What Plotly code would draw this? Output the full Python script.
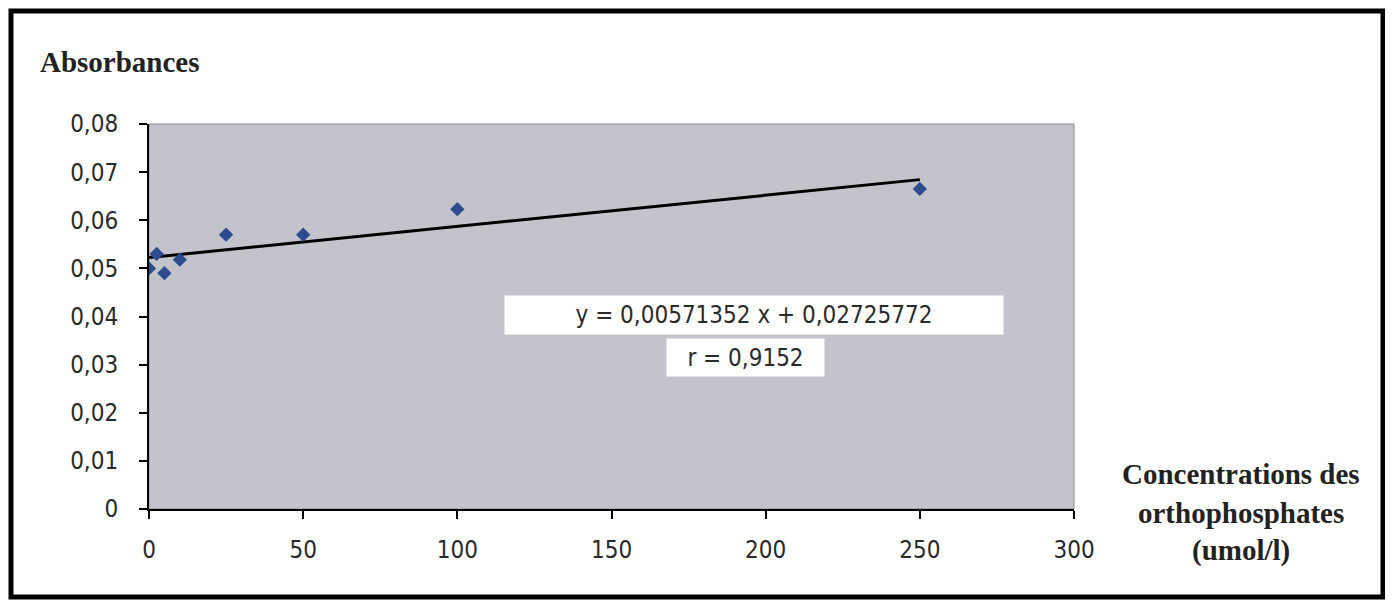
import numpy as np
import plotly.graph_objects as go

# Data
concentrations = [0, 2.5, 5, 10, 25, 50, 100, 250]
absorbances = [0.0500, 0.0530, 0.0490, 0.0518, 0.0570, 0.0570, 0.0623, 0.0665]
y_ticks = [0, 0.01, 0.02, 0.03, 0.04, 0.05, 0.06, 0.07, 0.08]
y_tick_labels = ["0", "0,01", "0,02", "0,03", "0,04", "0,05", "0,06", "0,07", "0,08"]
x_ticks = [0, 50, 100, 150, 200, 250, 300]
equation_text = "y = 0,00571352 x + 0,02725772"
r_text = "r = 0,9152"
y_title = "Absorbances"
x_title_lines = ["Concentrations des", "orthophosphates", "(umol/l)"]

# Linear trend line fitted on the data
slope, intercept = np.polyfit(concentrations, absorbances, 1)
trend_x = [min(concentrations), max(concentrations)]
trend_y = [slope * v + intercept for v in trend_x]

# figure geometry (the page adds an 8px body margin)
W, H = 1377, 592
L, T, PW, PH = 141, 116, 925, 385
R, B = W - L - PW, H - T - PH


def px(xf):
    return (xf - L) / PW


def py(yf):
    return (T + PH - yf) / PH


sans = "DejaVu Sans Condensed, Liberation Sans Narrow, Arial Narrow, sans-serif"
tick_font = dict(family=sans, size=24, color="#2a2a2a")
title_font = dict(family="Liberation Serif, Times New Roman, serif", size=29, color="#222222")

fig = go.Figure()
fig.add_trace(go.Scatter(x=trend_x, y=trend_y, mode="lines",
                         line=dict(color="black", width=3), showlegend=False, hoverinfo="skip"))
fig.add_trace(go.Scatter(x=concentrations, y=absorbances, mode="markers",
                         marker=dict(symbol="diamond", size=11, color="#2D4B8E"),
                         showlegend=False))

fig.update_layout(
    width=W, height=H,
    margin=dict(l=L, r=R, t=T, b=B),
    paper_bgcolor="white",
    plot_bgcolor="#C3C4CB",
    separators=", ",
    xaxis=dict(range=[0, 300], tickvals=x_ticks, showgrid=False, zeroline=False,
               showline=True, linecolor="black", linewidth=2,
               ticks="outside", ticklen=8, tickwidth=2, tickcolor="black",
               tickfont=tick_font, ticklabelstandoff=10),
    yaxis=dict(range=[0, 0.08], tickvals=y_ticks, ticktext=y_tick_labels,
               showgrid=False, zeroline=False,
               showline=True, linecolor="black", linewidth=2,
               ticks="outside", ticklen=8, tickwidth=2, tickcolor="black",
               tickfont=tick_font, ticklabelstandoff=16),
)

# plot area border (top/right gray)
fig.add_shape(type="rect", xref="x domain", yref="y domain", x0=0, x1=1, y0=0, y1=1,
              line=dict(color="#8C8C8C", width=1), layer="below")
# outer frame
fig.add_shape(type="rect", xref="paper", yref="paper",
              x0=px(3), x1=px(1375), y0=py(589), y1=py(3),
              line=dict(color="black", width=5))

fig.add_annotation(x=196.2, y=0.0403, xref="x", yref="y", text=equation_text,
                   showarrow=False, bgcolor="white", width=496, height=36,
                   font=dict(family=sans, size=24, color="#2a2a2a"))
fig.add_annotation(x=193.5, y=0.0315, xref="x", yref="y", text=r_text,
                   showarrow=False, bgcolor="white", width=155, height=35,
                   font=dict(family=sans, size=24, color="#2a2a2a"))

fig.add_annotation(x=px(30), y=py(54), xref="paper", yref="paper",
                   xanchor="left", yanchor="middle", text="<b>%s</b>" % y_title,
                   showarrow=False, font=title_font)
for yc, line in zip([466, 505, 542], x_title_lines):
    fig.add_annotation(x=px(1233), y=py(yc),
                       xref="paper", yref="paper", xanchor="center", yanchor="middle",
                       text="<b>%s</b>" % line, showarrow=False, font=title_font)

fig.write_html("out.html")
